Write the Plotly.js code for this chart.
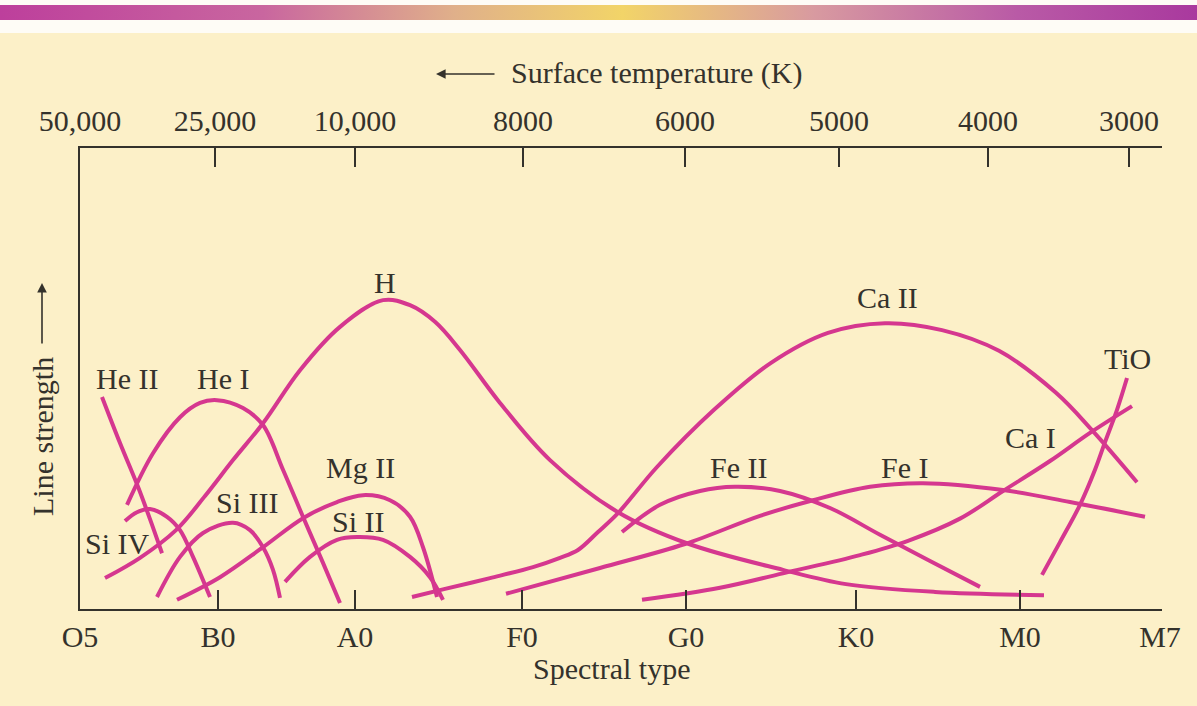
<!DOCTYPE html>
<html><head><meta charset="utf-8">
<script src="https://cdn.plot.ly/plotly-3.0.1.min.js"></script>
<style>html,body{margin:0;padding:0;background:#fcf0c8;}#chart{width:1197px;height:706px;}</style>
</head><body><div id="chart"></div>
<script>
// ---- axis categories ----
const specTypes = ['O5','B0','A0','F0','G0','K0','M0','M7'];
const specPos   = [0, 1.38, 2.75, 4.42, 6.06, 7.76, 9.40, 10.80];
const tempLabels = ['50,000','25,000','10,000','8000','6000','5000','4000','3000'];
const tempPos    = [0, 1.35, 2.75, 4.43, 6.05, 7.59, 9.08, 10.49];

// ---- line strength curves (x: spectral position, y: relative strength) ----
const he2X = [0.22, 0.40, 0.58, 0.70, 0.82];
const he2Y = [46.0, 36.0, 26.5, 19.5, 12.1];

const he1X = [0.47, 0.73, 1.00, 1.20, 1.37, 1.63, 1.83, 2.03, 2.23, 2.43, 2.60];
const he1Y = [22.6, 33.8, 41.6, 44.7, 45.3, 43.6, 39.9, 30.2, 20.0, 10.0, 1.3];

const si4X = [0.45, 0.57, 0.70, 0.87, 1.00, 1.13, 1.30];
const si4Y = [19.1, 21.0, 21.7, 20.0, 17.1, 11.3, 2.6];

const si3X = [0.77, 1.00, 1.23, 1.53, 1.70, 1.83, 1.93, 2.00];
const si3Y = [2.6, 11.3, 16.5, 18.7, 17.1, 13.4, 8.5, 2.4];

const mg2X = [0.97, 1.40, 1.83, 2.23, 2.57, 2.83, 3.10, 3.30, 3.43, 3.57];
const mg2Y = [2.0, 6.9, 13.4, 19.7, 23.2, 24.7, 23.6, 20.0, 13.4, 2.6];

const si2X = [2.05, 2.30, 2.57, 2.77, 3.03, 3.30, 3.50, 3.63];
const si2Y = [5.9, 11.3, 15.0, 15.6, 15.0, 11.3, 6.9, 2.0];

const hX = [0.25, 0.60, 0.96, 1.25, 1.53, 1.83, 2.20, 2.60, 3.03, 3.30, 3.55, 3.80, 4.20, 4.70, 5.38, 6.09, 7.03, 7.66, 8.55, 9.64];
const hY = [6.7, 11.1, 17.1, 24.5, 32.3, 40.3, 51.8, 61.2, 67.0, 65.9, 62.3, 56.2, 44.7, 32.3, 21.0, 14.1, 8.5, 5.4, 3.7, 3.0];

const ca2X = [3.32, 3.64, 4.10, 4.53, 4.80, 4.98, 5.18, 5.38, 5.77, 6.34, 6.91, 7.48, 8.05, 8.62, 9.19, 9.76, 10.12, 10.57];
const ca2Y = [2.6, 4.3, 6.7, 9.1, 11.1, 12.8, 16.7, 20.8, 30.8, 43.2, 53.4, 59.9, 62.0, 60.5, 56.0, 46.9, 38.8, 27.5];

const fe2X = [5.42, 5.80, 6.20, 6.55, 7.00, 7.50, 8.00, 8.50, 9.00];
const fe2Y = [16.7, 22.6, 25.6, 26.5, 25.6, 21.9, 16.1, 10.4, 4.8];

const fe1X = [4.26, 5.20, 6.05, 6.80, 7.33, 7.90, 8.43, 9.23, 9.90, 10.65];
const fe1Y = [3.3, 8.9, 14.1, 20.2, 23.6, 26.5, 27.3, 25.8, 23.2, 20.0];

const ca1X = [5.62, 6.40, 7.08, 7.80, 8.28, 8.80, 9.23, 9.70, 10.10, 10.52];
const ca1Y = [2.0, 4.6, 8.0, 11.7, 14.8, 19.6, 25.6, 32.1, 38.2, 44.0];

const tioX = [9.62, 9.80, 10.00, 10.15, 10.25, 10.37, 10.47];
const tioY = [7.4, 14.5, 22.6, 30.2, 36.2, 43.2, 50.1];

const curves = [
  {name:'He II', x:he2X, y:he2Y}, {name:'He I', x:he1X, y:he1Y},
  {name:'Si IV', x:si4X, y:si4Y}, {name:'Si III', x:si3X, y:si3Y},
  {name:'Mg II', x:mg2X, y:mg2Y}, {name:'Si II', x:si2X, y:si2Y},
  {name:'H', x:hX, y:hY}, {name:'Ca II', x:ca2X, y:ca2Y},
  {name:'Fe II', x:fe2X, y:fe2Y}, {name:'Fe I', x:fe1X, y:fe1Y},
  {name:'Ca I', x:ca1X, y:ca1Y}, {name:'TiO', x:tioX, y:tioY}
];

// label anchor positions (layout)
const labelPos = {
  'He II':[0.47,50.1], 'He I':[1.43,50.1], 'Si IV':[0.37,14.3], 'Si III':[1.67,23.2],
  'Mg II':[2.80,30.8], 'Si II':[2.78,18.9], 'H':[3.05,70.9], 'Ca II':[8.07,67.5],
  'Fe II':[6.58,30.8], 'Fe I':[8.25,30.8], 'Ca I':[9.50,37.3], 'TiO':[10.47,54.4]
};

const MAG = '#d5378f';
const INK = '#34322c';
const FONT = "'Liberation Serif', 'Times New Roman', serif";
const BG = '#fcf0c8';

const traces = curves.map(c => ({
  type:'scatter', mode:'lines', x:c.x, y:c.y, name:c.name,
  line:{color:MAG, width:4, shape:'spline', smoothing:1},
  hoverinfo:'skip', showlegend:false
}));
traces.push({type:'scatter', mode:'lines', x:[null], y:[null], xaxis:'x2', yaxis:'y', hoverinfo:'skip', showlegend:false});
traces.push({type:'scatter', mode:'lines', x:[null], y:[null], xaxis:'x3', yaxis:'y', hoverinfo:'skip', showlegend:false});

// pixel -> paper helpers for decoration placement
const L = 80, R = 1162, T = 148, B = 609;
const pxX = p => (p - L) / (R - L);
const pxY = p => (B - p) / (B - T);

const txt = (x, y, text, extra) => Object.assign({xref:'paper', yref:'paper', x:pxX(x), y:pxY(y),
  xanchor:'center', yanchor:'middle', text:text, showarrow:false,
  font:{family:FONT, size:30, color:INK}}, extra || {});

const annotations = curves.map(c => ({
  x: labelPos[c.name][0], y: labelPos[c.name][1], xref:'x', yref:'y',
  xanchor:'center', yanchor:'middle',
  text: c.name, showarrow:false, font:{family:FONT, size:30, color:INK}
}));
annotations.push(
  txt(657, 73, 'Surface temperature (K)'),
  {xref:'paper', yref:'paper', x:pxX(436), y:pxY(74), text:'', showarrow:true, ax:60, ay:0, arrowhead:2, arrowsize:1.2, arrowwidth:1.6, arrowcolor:INK},
  txt(611, 668, 'Spectral type'),
  txt(42, 437, 'Line strength', {textangle:-90}),
  {xref:'paper', yref:'paper', x:pxX(42), y:pxY(283), text:'', showarrow:true, ax:0, ay:62, arrowhead:2, arrowsize:1.2, arrowwidth:1.6, arrowcolor:INK}
);

const barSvg = "<svg xmlns='http://www.w3.org/2000/svg' width='1197' height='16' preserveAspectRatio='none'>" +
  "<defs><linearGradient id='g' x1='0' x2='1' y1='0' y2='0'>" +
  "<stop offset='0' stop-color='#bd3f9c'/><stop offset='0.22' stop-color='#c9669f'/>" +
  "<stop offset='0.38' stop-color='#e0b08a'/><stop offset='0.52' stop-color='#f2d468'/>" +
  "<stop offset='0.68' stop-color='#d89aa0'/><stop offset='0.85' stop-color='#b95aa6'/>" +
  "<stop offset='1' stop-color='#a9399e'/></linearGradient></defs>" +
  "<rect width='1197' height='16' fill='url(#g)'/></svg>";

const layout = {
  width:1197, height:706,
  margin:{l:L, r:1197-R, t:T, b:706-B, pad:0},
  paper_bgcolor:BG, plot_bgcolor:BG,
  showlegend:false,
  font:{family:FONT, size:30, color:INK},
  xaxis:{range:[0,10.82], tickvals:specPos, ticktext:specTypes, ticks:'', showline:true,
    linecolor:INK, linewidth:2, showgrid:false, zeroline:false, ticklabelstandoff:0,
    tickfont:{family:FONT, size:30, color:INK}, fixedrange:true},
  xaxis2:{overlaying:'x', side:'top', range:[0,10.82], tickvals:tempPos, ticktext:tempLabels,
    ticks:'inside', ticklen:19, tickwidth:1.6, tickcolor:INK, showline:true, linecolor:INK,
    linewidth:2, showgrid:false, zeroline:false, ticklabelstandoff:3,
    tickfont:{family:FONT, size:30, color:INK}, fixedrange:true},
  xaxis3:{overlaying:'x', side:'bottom', range:[0,10.82], tickvals:specPos.slice(1,7),
    ticks:'inside', ticklen:19, tickwidth:1.6, tickcolor:INK, showticklabels:false,
    showline:false, showgrid:false, zeroline:false, fixedrange:true},
  yaxis:{range:[0,100], showline:true, linecolor:INK, linewidth:2, ticks:'',
    showticklabels:false, showgrid:false, zeroline:false, fixedrange:true},
  shapes:[
    {type:'rect', xref:'paper', yref:'paper', x0:pxX(0), x1:pxX(1197), y0:pxY(33), y1:pxY(0),
     fillcolor:'#fefcf6', line:{width:0}, layer:'below'}
  ],
  images:[
    {source:'data:image/svg+xml;charset=utf-8,' + encodeURIComponent(barSvg), xref:'paper', yref:'paper',
     x:pxX(0), y:pxY(5), sizex:pxX(1197)-pxX(0), sizey:pxY(5)-pxY(20), sizing:'stretch',
     xanchor:'left', yanchor:'top', layer:'above'}
  ],
  annotations:annotations
};

Plotly.newPlot('chart', traces, layout, {staticPlot:true, displayModeBar:false});
</script></body></html>
